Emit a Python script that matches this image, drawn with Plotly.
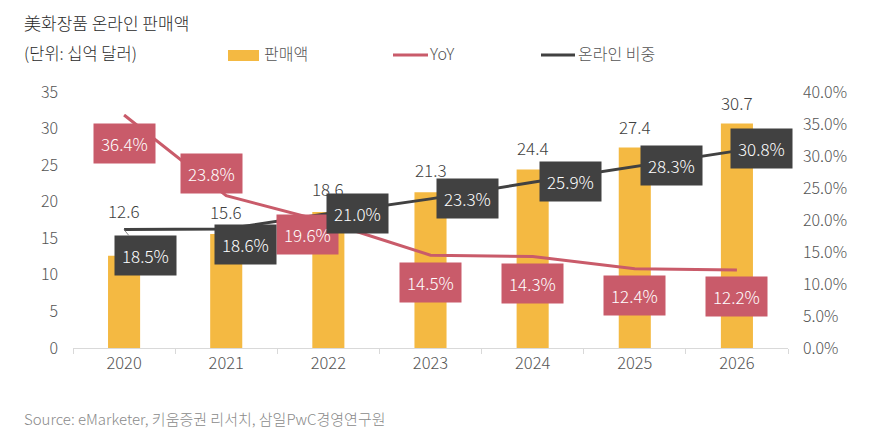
import plotly.graph_objects as go

years = ["2020", "2021", "2022", "2023", "2024", "2025", "2026"]
sales = [12.6, 15.6, 18.6, 21.3, 24.4, 27.4, 30.7]
yoy = [36.4, 23.8, 19.6, 14.5, 14.3, 12.4, 12.2]
share = [18.5, 18.6, 21.0, 23.3, 25.9, 28.3, 30.8]

# label offsets in pixels (dx, dy up)
yoy_off = [(0, -28), (-15, 22), (-21, -12), (0, -27), (0, -27), (0, -27), (0, -27)]
share_off = [(21, -26), (19, -16), (29, 0), (37, 0), (38, 1), (37, 1), (25, 2)]
sales_off = [45, 22, 23, 23, 22, 21, 21]

YELLOW = "#F4B942"
RED = "#C95B6A"
DARK = "#414141"
FONT = "Noto Sans CJK KR"

L, R, T, B = 73, 85, 92, 92
W, H = 873, 440
pw, ph = W - L - R, H - T - B


def px(xp, yp):
    return (xp - L) / pw, 1 - (yp - T) / ph


fig = go.Figure()
fig.add_trace(go.Bar(x=years, y=sales, marker=dict(color=YELLOW, line=dict(width=0)),
                     name="판매액", hoverinfo="skip"))
fig.add_trace(go.Scatter(x=years, y=yoy, yaxis="y2", mode="lines",
                         line=dict(color=RED, width=3), name="YoY"))
fig.add_trace(go.Scatter(x=years, y=share, yaxis="y2", mode="lines",
                         line=dict(color=DARK, width=3), name="온라인 비중"))

ann = []
# category axis: annotations use the category index
for i in range(len(years)):
    dx, dy = yoy_off[i]
    ann.append(dict(x=i, y=yoy[i], xref="x", yref="y2", text=f"{yoy[i]:.1f}%",
                    showarrow=False, xshift=dx, yshift=dy, yanchor="middle",
                    bgcolor=RED, borderpad=7,
                    font=dict(family=FONT, size=17, color="white", weight=300)))
for i in range(len(years)):
    dx, dy = share_off[i]
    a = dict(x=i, y=share[i], xref="x", yref="y2", text=f"{share[i]:.1f}%",
             xshift=dx, yshift=dy, yanchor="middle",
             bgcolor=DARK, borderpad=7, showarrow=False,
             font=dict(family=FONT, size=17, color="white", weight=300))
    if i == 0:
        a.update(showarrow=True, ax=dx, ay=-dy, xshift=0, yshift=0, arrowhead=0,
                 arrowwidth=1, arrowcolor="#888888", standoff=0)
    ann.append(a)
for i in range(len(years)):
    ann.append(dict(x=i, y=sales[i], xref="x", yref="y", text=f"{sales[i]:.1f}",
                    showarrow=False, yshift=sales_off[i], yanchor="middle",
                    font=dict(family=FONT, size=17, color="#404040", weight=300)))


def ptext(xp, yp, text, size, color):
    x, y = px(xp, yp)
    return dict(x=x, y=y, xref="paper", yref="paper", text=text, showarrow=False,
                xanchor="left", yanchor="middle",
                font=dict(family=FONT, size=size, color=color, weight=300))


ann += [
    ptext(22, 22, "美화장품 온라인 판매액", 17, "#2a2a2a"),
    ptext(22, 53, "(단위: 십억 달러)", 16.5, "#2a2a2a"),
    ptext(22, 418, "Source: eMarketer, 키움증권 리서치, 삼일PwC경영연구원", 15, "#8a8a8a"),
    ptext(262, 53, "판매액", 16, "#555555"),
    ptext(428, 53, "YoY", 16, "#555555"),
    ptext(576, 53, "온라인 비중", 16, "#555555"),
]

shapes = []
x0, y0 = px(228, 50); x1, y1 = px(259, 61)
shapes.append(dict(type="rect", xref="paper", yref="paper", x0=x0, y0=y0, x1=x1, y1=y1,
                   fillcolor=YELLOW, line=dict(width=0)))
x0, y0 = px(393, 55); x1, _ = px(428, 55)
shapes.append(dict(type="line", xref="paper", yref="paper", x0=x0, y0=y0, x1=x1, y1=y0,
                   line=dict(color=RED, width=3)))
x0, y0 = px(541, 55); x1, _ = px(575, 55)
shapes.append(dict(type="line", xref="paper", yref="paper", x0=x0, y0=y0, x1=x1, y1=y0,
                   line=dict(color=DARK, width=3)))

fig.update_layout(
    width=W, height=H,
    margin=dict(l=L, r=R, t=T, b=B),
    paper_bgcolor="white", plot_bgcolor="white",
    showlegend=False,
    bargap=0.686,
    font=dict(family=FONT, size=16, color="#555555", weight=300),
    xaxis=dict(type="category", categoryorder="array", categoryarray=years,
               range=[-0.5, len(years) - 0.5], autorange=False,
               showgrid=False, showline=True, linecolor="#d9d9d9", linewidth=1,
               ticks="outside", ticklen=5, tickcolor="#d9d9d9", tickson="boundaries",
               tickangle=0,
               tickfont=dict(family=FONT, size=16.5, color="#555555", weight=300), zeroline=False),
    yaxis=dict(range=[0, 35], dtick=5, showgrid=False, zeroline=False, showline=False,
               tickfont=dict(family=FONT, size=16, color="#555555", weight=300), ticklabelstandoff=14),
    yaxis2=dict(range=[0, 40], dtick=5, overlaying="y", side="right", showgrid=False,
                zeroline=False, showline=False, tickformat=".1f", ticksuffix="%",
                tickfont=dict(family=FONT, size=16, color="#555555", weight=300), ticklabelstandoff=14),
    annotations=ann, shapes=shapes,
)
fig.write_html("out.html")
